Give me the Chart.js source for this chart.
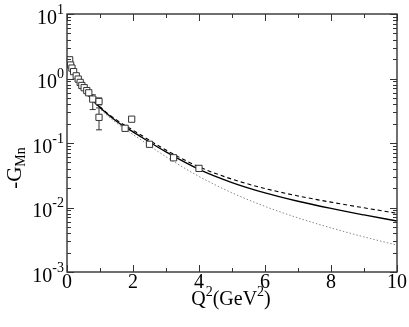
<!DOCTYPE html>
<html>
<head>
<meta charset="utf-8">
<script src="https://cdn.jsdelivr.net/npm/chart.js@4.4.0/dist/chart.umd.min.js"></script>
<style>
  html, body { margin: 0; padding: 0; background: #fff; }
  #wrap { width: 409px; height: 327px; }
</style>
</head>
<body>
<div id="wrap"><canvas id="myChart" width="409" height="327"></canvas></div>
<script>
// measured data (Q^2 in GeV^2, -G_Mn)
const expQ2 = [0.08, 0.11, 0.15, 0.20, 0.28, 0.34, 0.40, 0.45, 0.52, 0.60, 0.66, 0.78, 0.97, 0.97, 1.76, 1.96, 2.50, 3.23, 4.00];
const expG = [1.95, 1.62, 1.45, 1.28, 1.10, 0.98, 0.87, 0.78, 0.72, 0.65, 0.60, 0.48, 0.44, 0.25, 0.169, 0.234, 0.0955, 0.059, 0.0404];
const expLow = [1.88, 1.56, 1.39, 1.23, 1.05, 0.93, 0.83, 0.74, 0.68, 0.61, 0.55, 0.33, 0.39, 0.16, 0.160, 0.224, 0.0915, 0.056, 0.0385];
const expHigh = [2.02, 1.68, 1.51, 1.33, 1.15, 1.03, 0.91, 0.82, 0.76, 0.69, 0.65, 0.56, 0.50, 0.35, 0.178, 0.244, 0.0995, 0.062, 0.0423];

// model curves
const curveQ2 = [0, 0.25, 0.5, 0.75, 1, 1.25, 1.5, 1.75, 2, 3, 4, 5, 6, 7, 8, 9, 10];
const solidG = [1.85, 1.05, 0.679, 0.476, 0.354, 0.274, 0.218, 0.178, 0.1486, 0.0728, 0.0391, 0.0244, 0.01687, 0.0125, 0.00966, 0.00767, 0.00617];
const dashedG = [1.85, 1.055, 0.687, 0.485, 0.363, 0.283, 0.228, 0.188, 0.158, 0.0776, 0.0427, 0.0275, 0.0197, 0.0151, 0.0121, 0.00989, 0.00813];
const dottedG = [1.85, 1.045, 0.670, 0.463, 0.339, 0.259, 0.204, 0.165, 0.1355, 0.0612, 0.0303, 0.01687, 0.0104, 0.0069, 0.00483, 0.0035, 0.00261];

const xMajor = [0, 2, 4, 6, 8, 10];
const yExponents = [1, 0, -1, -2, -3];

const serif = '"Liberation Serif", "DejaVu Serif", serif';

const toPoints = (xs, ys) => xs.map((x, i) => ({ x: x, y: ys[i] }));

const curve = (data, color, dash, width) => ({
  data,
  showLine: true,
  borderColor: color,
  borderWidth: width,
  borderDash: dash,
  pointRadius: 0,
  cubicInterpolationMode: 'monotone',
  fill: false
});

// error bars under the markers
const errorBars = {
  id: 'errorBars',
  beforeDatasetsDraw(chart) {
    const ctx = chart.ctx;
    const xs = chart.scales.x, ys = chart.scales.y;
    ctx.save();
    ctx.strokeStyle = '#333';
    ctx.lineWidth = 1;
    expQ2.forEach((q, i) => {
      const px = xs.getPixelForValue(q);
      const lo = ys.getPixelForValue(expLow[i]);
      const hi = ys.getPixelForValue(expHigh[i]);
      ctx.beginPath();
      ctx.moveTo(px, lo); ctx.lineTo(px, hi);
      ctx.moveTo(px - 3, lo); ctx.lineTo(px + 3, lo);
      ctx.moveTo(px - 3, hi); ctx.lineTo(px + 3, hi);
      ctx.stroke();
    });
    ctx.restore();
  }
};

// frame, inside ticks and labels with exponents
const frame = {
  id: 'frame',
  afterDraw(chart) {
    const ctx = chart.ctx;
    const a = chart.chartArea;
    const xs = chart.scales.x, ys = chart.scales.y;
    ctx.save();
    ctx.strokeStyle = '#333';
    ctx.lineWidth = 1.4;
    ctx.strokeRect(a.left, a.top, a.right - a.left, a.bottom - a.top);

    ctx.lineWidth = 1;
    ctx.beginPath();
    for (let v = 0; v <= 10; v++) {
      const px = Math.round(xs.getPixelForValue(v)) + 0.5;
      const len = v % 2 === 0 ? 7 : 4;
      ctx.moveTo(px, a.bottom); ctx.lineTo(px, a.bottom - len);
      ctx.moveTo(px, a.top); ctx.lineTo(px, a.top + len);
    }
    for (let e = -3; e <= 1; e++) {
      for (let m = 1; m <= 9; m++) {
        const v = m * Math.pow(10, e);
        if (v > 10) break;
        const py = Math.round(ys.getPixelForValue(v)) + 0.5;
        const len = m === 1 ? 7 : 4;
        ctx.moveTo(a.left, py); ctx.lineTo(a.left + len, py);
        ctx.moveTo(a.right, py); ctx.lineTo(a.right - len, py);
      }
    }
    ctx.stroke();

    ctx.fillStyle = '#000';
    ctx.textBaseline = 'alphabetic';

    // x tick labels
    ctx.font = '20px ' + serif;
    ctx.textAlign = 'center';
    xMajor.forEach(v => ctx.fillText(String(v), xs.getPixelForValue(v), a.bottom + 16));

    // y tick labels 10^n
    ctx.textAlign = 'left';
    yExponents.forEach(e => {
      const py = ys.getPixelForValue(Math.pow(10, e));
      const exp = e < 0 ? '-' + (-e) : String(e);
      ctx.font = '20px ' + serif;
      const wBase = ctx.measureText('10').width;
      ctx.font = '14px ' + serif;
      const wExp = ctx.measureText(exp).width;
      const x0 = 64 - wBase - wExp;
      ctx.font = '20px ' + serif;
      ctx.fillText('10', x0, py + 9.5);
      ctx.font = '14px ' + serif;
      ctx.fillText(exp, x0 + wBase, py - 0.5);
    });

    // x axis title Q^2(GeV^2)
    const parts = [['Q', 20, 0], ['2', 14, -9], ['(GeV', 20, 0], ['2', 14, -9], [')', 20, 0]];
    let total = 0;
    parts.forEach(p => { ctx.font = p[1] + 'px ' + serif; total += ctx.measureText(p[0]).width; });
    let cx = 231 - total / 2;
    parts.forEach(p => {
      ctx.font = p[1] + 'px ' + serif;
      ctx.fillText(p[0], cx, 305 + p[2]);
      cx += ctx.measureText(p[0]).width;
    });

    // y axis title -G_Mn
    ctx.font = '21px ' + serif;
    const wG = ctx.measureText('-G').width;
    ctx.font = '14px ' + serif;
    const wS = ctx.measureText('Mn').width;
    ctx.translate(21, 168 + (wG + wS) / 2);
    ctx.rotate(-Math.PI / 2);
    ctx.font = '21px ' + serif;
    ctx.fillText('-G', 0, 0);
    ctx.font = '14px ' + serif;
    ctx.fillText('Mn', wG, 4);
    ctx.restore();
  }
};

const config = {
  type: 'scatter',
  data: {
    datasets: [
      {
        data: toPoints(expQ2, expG),
        showLine: false,
        pointStyle: 'rect',
        pointRadius: 4.4,
        pointBackgroundColor: '#fff',
        pointBorderColor: '#333',
        pointBorderWidth: 1
      },
      curve(toPoints(curveQ2, solidG), '#000', [], 1.3),
      curve(toPoints(curveQ2, dashedG), '#000', [4, 3], 1.1),
      curve(toPoints(curveQ2, dottedG), '#888', [1.5, 2], 1)
    ]
  },
  options: {
    responsive: false,
    animation: false,
    devicePixelRatio: 1,
    layout: { padding: { top: 14, right: 12, left: 0, bottom: 0 } },
    plugins: { legend: { display: false }, tooltip: { enabled: false } },
    scales: {
      x: {
        type: 'linear', min: 0, max: 10,
        grid: { display: false }, border: { display: false },
        ticks: { display: false },
        afterFit: s => { s.height = 55; }
      },
      y: {
        type: 'logarithmic', min: 0.001, max: 10,
        grid: { display: false }, border: { display: false },
        ticks: { display: false },
        afterFit: s => { s.width = 67; }
      }
    }
  },
  plugins: [errorBars, frame]
};

new Chart(document.getElementById('myChart'), config);
</script>
</body>
</html>
